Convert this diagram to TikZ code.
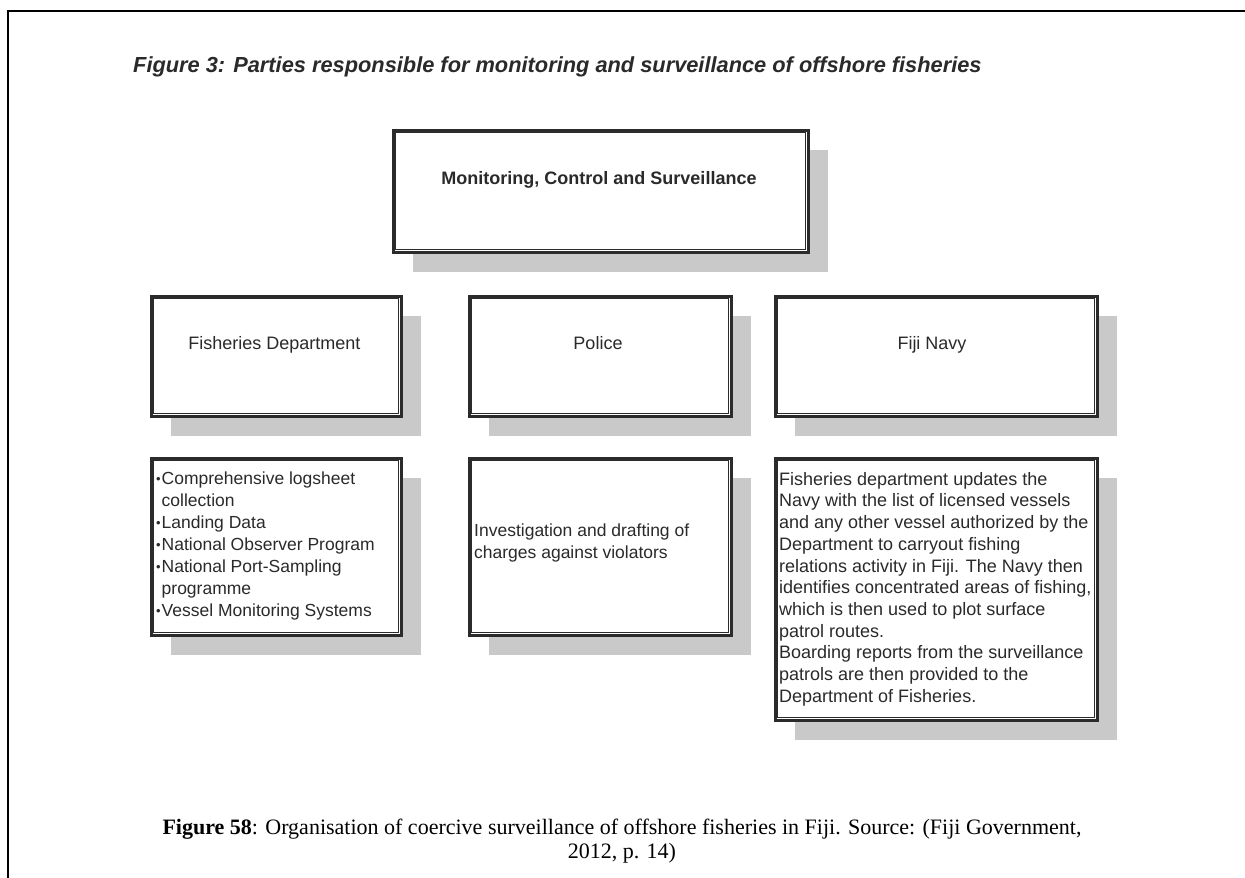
\documentclass[tikz,border=0pt]{standalone}
\usepackage{fontspec}
\setmainfont{Liberation Sans}
\newfontfamily\capfont{Liberation Serif}
\usetikzlibrary{calc,shadows}
\definecolor{edge}{HTML}{2B2B2B}
\definecolor{shade}{HTML}{C9C9C9}
\definecolor{txt}{HTML}{2A2A2A}
\newcommand\bul{\makebox[5.5pt][l]{\raisebox{1pt}{\fontsize{13}{13}\selectfont •}}}
\newcommand\bsp{\hspace*{5.5pt}}
\newcommand\inbox[1]{\draw[innerst] ($(#1.north west)+(4.3,-4.3)$) rectangle ($(#1.south east)+(-4.3,4.3)$);}
\begin{document}
\begin{tikzpicture}[x=1pt,y=1pt,
  boxst/.style={draw=edge, line width=3.4pt, fill=white, inner sep=0pt, anchor=north west,
     drop shadow={shadow xshift=20pt, shadow yshift=-20pt, fill=shade, opacity=1}},
  innerst/.style={draw=edge, line width=1.3pt},
  lbl/.style={font=\fontsize{18}{21.6}\selectfont, text=txt, inner sep=0pt, anchor=base},
  body/.style={text=txt, align=left, inner sep=0pt, anchor=north west},
]
\useasboundingbox (0,0) rectangle (1245,-878);
\fill[white] (0,0) rectangle (1245,-878);
% page frame
\draw[line width=2.2pt] (8,-878) -- (8,-11) -- (1245,-11);
% title
\node[anchor=base west, inner sep=0pt, text=txt, font=\fontsize{21.8}{26}\selectfont\bfseries\itshape] (title) at (133,-72)
  {Figure 3: Parties responsible for monitoring and surveillance of offshore fisheries};
% top box
\node[boxst, minimum width=415pt, minimum height=122pt] (mcs) at (391.5,-128.5) {};
\inbox{mcs}
\node[lbl, font=\fontsize{18}{21.6}\selectfont\bfseries] (mcst) at (599,-184) {Monitoring, Control and Surveillance};
% middle boxes
\node[boxst, minimum width=250pt, minimum height=120pt] (fd) at (149.5,-294.5) {};
\inbox{fd}
\node[lbl] (fdt) at (274.5,-349) {Fisheries Department};
\node[boxst, minimum width=262pt, minimum height=120pt] (po) at (467.5,-294.5) {};
\inbox{po}
\node[lbl] (pot) at (598,-349) {Police};
\node[boxst, minimum width=322pt, minimum height=120pt] (fn) at (773.5,-294.5) {};
\inbox{fn}
\node[lbl] (fnt) at (932,-349) {Fiji Navy};
% bottom boxes
\node[boxst, minimum width=250pt, minimum height=177pt] (fdl) at (149.5,-456.5) {};
\inbox{fdl}
\node[body, font=\fontsize{17.5}{22}\selectfont] (fdlt) at (156,-472)
  {\bul Comprehensive logsheet\\ \bsp collection\\ \bul Landing Data\\ \bul National Observer Program\\
   \bul National Port-Sampling\\ \bsp programme\\ \bul Vessel Monitoring Systems};
\node[boxst, minimum width=262pt, minimum height=177pt] (pol) at (467.5,-456.5) {};
\inbox{pol}
\node[body, font=\fontsize{17.5}{21.5}\selectfont] (polt) at (474,-524)
  {Investigation and drafting of\\ charges against violators};
\node[boxst, minimum width=322pt, minimum height=262pt] (fnl) at (773.5,-456.5) {};
\inbox{fnl}
\node[body, font=\fontsize{18}{21.7}\selectfont] (fnlt) at (779,-472)
  {Fisheries department updates the\\ Navy with the list of licensed vessels\\ and any other vessel authorized by the\\
   Department to carryout fishing\\ relations activity in Fiji. The Navy then\\ identifies concentrated areas of fishing,\\
   which is then used to plot surface\\ patrol routes.\\ Boarding reports from the surveillance\\
   patrols are then provided to the\\ Department of Fisheries.};
% caption
\node[align=center, inner sep=0pt, font=\capfont\fontsize{22}{24}\selectfont] (cap) at (622,-841)
  {\textbf{Figure 58}: Organisation of coercive surveillance of offshore fisheries in Fiji. Source: (Fiji Government,\\ 2012, p. 14)};
\end{tikzpicture}
\end{document}
